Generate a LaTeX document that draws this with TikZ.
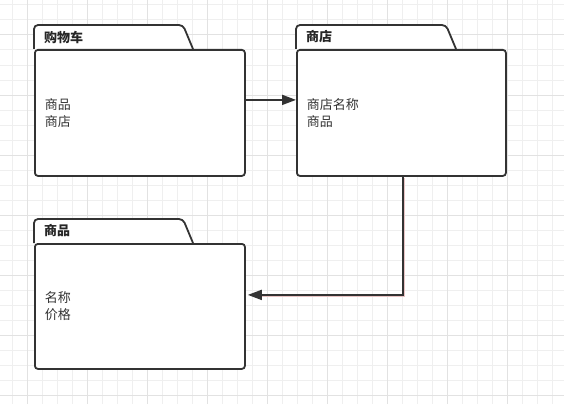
\documentclass[tikz,border=0pt]{standalone}
\usepackage{fontspec}
\setmainfont{Noto Sans CJK SC}
\usetikzlibrary{positioning,arrows.meta}
\definecolor{ink}{HTML}{333333}
\definecolor{gridminor}{HTML}{EFEFEF}
\definecolor{gridmajor}{HTML}{E2E2E2}
\definecolor{halo}{HTML}{E8C4C4}

\begin{document}
\begin{tikzpicture}[
  x=1pt, y=-1pt,
  pkg/.style={draw=ink, line width=1.8pt, rounded corners=3pt, fill=white, anchor=north west,
    minimum height=126pt, text width=190pt, inner xsep=10pt, align=left,
    font=\fontsize{13}{17}\selectfont, text=ink},
  tab/.style={draw=ink, line width=1.8pt, fill=white, rounded corners=4pt},
  title/.style={font=\fontsize{13}{15}\selectfont\bfseries, text=black!85, anchor=west, inner sep=0pt},
  arr/.style={-{Triangle[length=14pt,width=10pt]}, draw=ink, line width=1.8pt},
  glow/.style={draw=halo, line width=3pt, transform canvas={shift={(0.9pt,-0.9pt)}}}
]
\useasboundingbox[fill=white] (0,0) rectangle (564,404);

% grid
\foreach \gx in {0,...,36}
  \draw[gridminor, line width=1pt] ({12.3+15*\gx},0) -- ({12.3+15*\gx},404);
\foreach \gy in {0,...,26}
  \draw[gridminor, line width=1pt] (0,{5+15*\gy}) -- (564,{5+15*\gy});
\foreach \gx in {0,...,8}
  \draw[gridmajor, line width=1pt] ({27.3+60*\gx},0) -- ({27.3+60*\gx},404);
\foreach \gy in {0,...,6}
  \draw[gridmajor, line width=1pt] (0,{35+60*\gy}) -- (564,{35+60*\gy});

% packages
\coordinate (cartnw) at (34,49);
\coordinate (shopnw) at (296,49);
\coordinate (itemnw) at (34,243);

\draw[tab] (cartnw) -- ++(0,-24) -- ++(149,0) -- ++(10,24);
\draw[tab] (shopnw) -- ++(0,-24) -- ++(150,0) -- ++(10,24);
\draw[tab] (itemnw) -- ++(0,-24) -- ++(149,0) -- ++(10,24);

\node[pkg] (cart) at (cartnw) {商品\\商店};
\node[pkg, text width=189pt] (shop) at (shopnw) {商店名称\\商品};
\node[pkg, minimum height=125pt] (item) at (itemnw) {名称\\价格};

\node[title] (carttitle) at ([shift={(10,-12)}]cartnw) {购物车};
\node[title] (shoptitle) at ([shift={(10,-12)}]shopnw) {商店};
\node[title] (itemtitle) at ([shift={(10,-12)}]itemnw) {商品};

% connectors
\draw[arr] ([yshift=13pt]cart.east) -- ([yshift=13pt]shop.west);
\draw[glow, shorten >=12pt] ([xshift=1.5pt]shop.south) |- ([yshift=11.5pt]item.east);
\draw[arr, shorten >=2pt] ([xshift=1.5pt]shop.south) |- ([yshift=11.5pt]item.east);
\end{tikzpicture}
\end{document}
